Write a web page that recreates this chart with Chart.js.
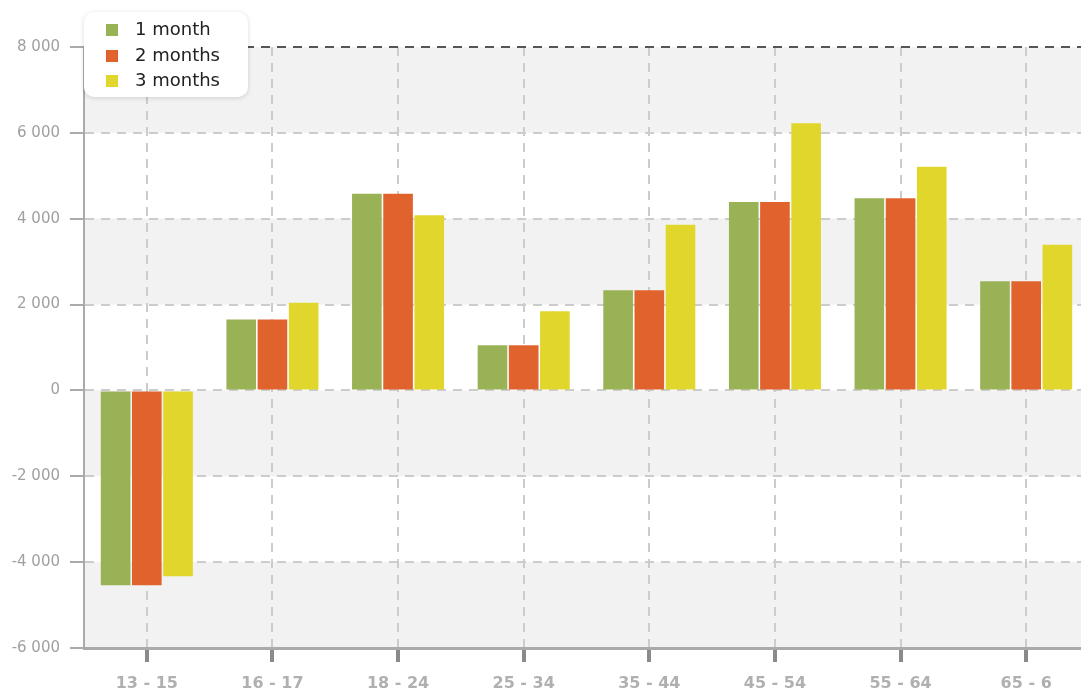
<!DOCTYPE html>
<html lang="en">
<head>
    <meta charset="UTF-8">
    <script src="https://cdn.jsdelivr.net/npm/chart.js@4.4.1/dist/chart.umd.min.js"></script>
    <title>Age groups</title>
    <style>
        html, body { margin: 0; padding: 0; overflow: hidden; background: #fff; }
        #wrap { position: relative; width: 1089px; height: 690px; }
        #legend {
            position: absolute; left: 84px; top: 12px; width: 164px; height: 85px;
            background: #fff; border-radius: 10px; box-shadow: 0 1px 5px rgba(0,0,0,0.15);
            box-sizing: border-box; padding-top: 4px;
            font-family: "DejaVu Sans", sans-serif; font-size: 18px; color: #222;
        }
        .item { height: 25.5px; line-height: 25.5px; padding-left: 22px; white-space: nowrap; }
        .box { display: inline-block; width: 12px; height: 12px; margin-right: 17px; vertical-align: -1px; }
    </style>
</head>
<body>
    <div id="wrap">
        <canvas id="chart" width="1089" height="690"></canvas>
        <div id="legend"></div>
    </div>

    <script>
        const ageGroups = ["13 - 15", "16 - 17", "18 - 24", "25 - 34", "35 - 44", "45 - 54", "55 - 64", "65 - 6"];
        const seriesNames = ["1 month", "2 months", "3 months"];
        const oneMonth = [-4540, 1650, 4580, 1055, 2335, 4390, 4475, 2545];
        const twoMonths = [-4540, 1650, 4580, 1055, 2335, 4390, 4475, 2545];
        const threeMonths = [-4330, 2040, 4080, 1845, 3860, 6225, 5210, 3395];
        const yTicks = [-6000, -4000, -2000, 0, 2000, 4000, 6000, 8000];
        const colors = ["#9ab256", "#e0632e", "#e0d62c"];

        function fmt(v) {
            const s = String(Math.abs(v)).replace(/\B(?=(\d{3})+(?!\d))/g, " ");
            return (v < 0 ? "-" : "") + s;
        }

        // alternating horizontal bands behind the bars, gray from the bottom band up
        const bands = {
            id: "bands",
            beforeDraw(chart) {
                const ctx = chart.ctx, y = chart.scales.y, area = chart.chartArea;
                ctx.save();
                ctx.fillStyle = "#f2f2f2";
                for (let i = 0; i < yTicks.length - 1; i += 2) {
                    const top = y.getPixelForValue(yTicks[i + 1]);
                    const bot = y.getPixelForValue(yTicks[i]);
                    ctx.fillRect(area.left, top, area.right - area.left, bot - top);
                }
                ctx.restore();
            }
        };

        const allSeries = [oneMonth, twoMonths, threeMonths];
        new Chart("chart", {
            type: "bar",
            data: {
                labels: ageGroups,
                datasets: allSeries.map((d, i) => ({
                    label: seriesNames[i],
                    data: d,
                    backgroundColor: colors[i],
                    borderWidth: 0,
                    barPercentage: 0.95,
                    categoryPercentage: 0.745
                }))
            },
            options: {
                responsive: false,
                animation: false,
                layout: { padding: { top: 47, right: 0, left: 0, bottom: 0 } },
                plugins: { legend: { display: false }, tooltip: { enabled: false } },
                scales: {
                    x: {
                        offset: true,
                        grid: {
                            offset: false,
                            color: "#cccccc",
                            lineWidth: 2,
                            tickLength: 14,
                            tickWidth: 4,
                            tickColor: "#8a8a8a",
                            tickBorderDash: []
                        },
                        border: { display: true, color: "#aaaaaa", width: 3, dash: [9, 7] },
                        ticks: {
                            color: "#b0b0b0",
                            padding: 12,
                            font: { family: "DejaVu Sans", size: 16, weight: "bold" }
                        },
                        afterFit(scale) { scale.height = 42; }
                    },
                    y: {
                        min: -6000,
                        max: 8000,
                        afterBuildTicks(scale) { scale.ticks = yTicks.map(v => ({ value: v })); },
                        ticks: {
                            color: "#a0a0a0",
                            padding: 10,
                            font: { family: "DejaVu Sans", size: 15 },
                            callback: v => fmt(v)
                        },
                        grid: {
                            color: c => c.tick && c.tick.value === 8000 ? "#555555" : "#cccccc",
                            lineWidth: 2,
                            tickLength: 14,
                            tickColor: "#aaaaaa",
                            tickBorderDash: []
                        },
                        border: { display: true, color: "#aaaaaa", width: 2, dash: [9, 7] },
                        afterFit(scale) { scale.width = 84; }
                    }
                }
            },
            plugins: [bands]
        });

        const legend = document.getElementById("legend");
        seriesNames.forEach((name, i) => {
            const row = document.createElement("div");
            row.className = "item";
            row.innerHTML = '<span class="box" style="background:' + colors[i] + '"></span>' + name;
            legend.appendChild(row);
        });
    </script>
</body>
</html>
